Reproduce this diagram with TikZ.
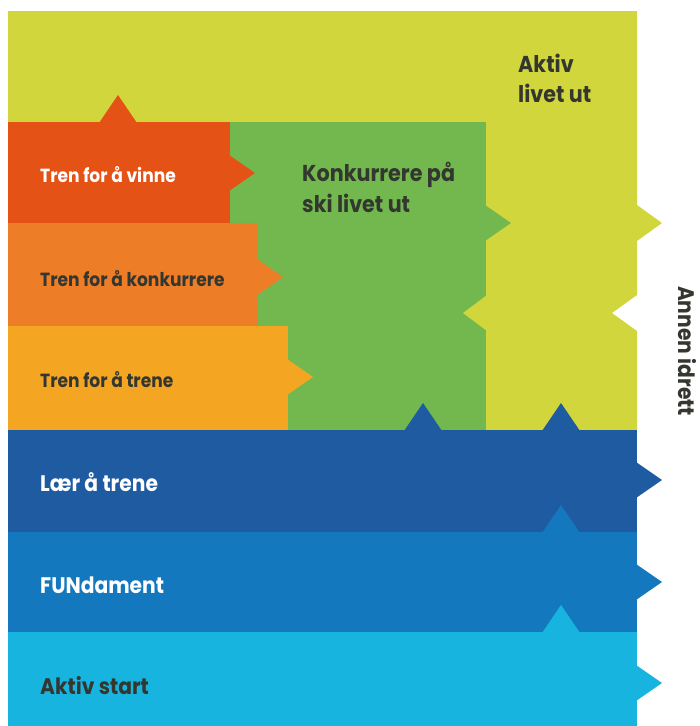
\documentclass[tikz,border=0pt]{standalone}
\usepackage{fontspec}
\setmainfont{Poppins}[FakeStretch=0.9]

\definecolor{limeband}{HTML}{D2D63D}
\definecolor{redband}{HTML}{E55215}
\definecolor{orangeband}{HTML}{EE7D28}
\definecolor{yellowband}{HTML}{F4A623}
\definecolor{greenband}{HTML}{72B84E}
\definecolor{darkblue}{HTML}{1F5BA0}
\definecolor{midblue}{HTML}{1478BE}
\definecolor{cyanband}{HTML}{17B4E0}
\definecolor{ink}{HTML}{33372F}

\begin{document}
\begin{tikzpicture}[x=1pt, y=-1pt,
    lbl/.style={anchor=base west, inner sep=0pt, font=\bfseries\fontsize{19}{19}\selectfont},
    biglbl/.style={anchor=base west, inner sep=0pt, font=\bfseries\fontsize{22.5}{22.5}\selectfont},
    toplbl/.style={anchor=base west, inner sep=0pt, text=ink, font=\bfseries\fontsize{23}{23}\selectfont}
]
\useasboundingbox (0,0) rectangle (700,726);

% Lime block with its outer arrow and notch
\fill[limeband] (8,11) -- (637,11) -- (637,205) -- (662,223) -- (637,241)
    -- (637,295) -- (612,313) -- (637,331) -- (637,430) -- (8,430) -- cycle;

% Bands
\fill[greenband]  (230,122) rectangle (486,430);
\fill[redband]    (8,122)   rectangle (230,223);
\fill[orangeband] (8,223)   rectangle (258,326);
\fill[yellowband] (8,326)   rectangle (288,430);
\fill[darkblue]   (8,430)   rectangle (637,532);
\fill[midblue]    (8,532)   rectangle (637,632);
\fill[cyanband]   (8,632)   rectangle (637,726);

% Arrows to the right
\foreach \xx/\yy/\cc in {486/223/greenband, 230/173/redband, 258/277/orangeband,
    288/377/yellowband, 637/480/darkblue, 637/582/midblue, 637/683/cyanband}
    \fill[\cc] (\xx-1,\yy-18) -- (\xx+25,\yy) -- (\xx-1,\yy+18) -- cycle;

% Arrows upwards
\foreach \xx/\yy/\cc in {118/122/redband, 423/430/darkblue, 561/430/darkblue,
    561/532/midblue, 561/632/cyanband}
    \fill[\cc] (\xx-19,\yy+1) -- (\xx,\yy-27) -- (\xx+19,\yy+1) -- cycle;

% Arrow back into the green block
\fill[limeband] (487,295) -- (463,313) -- (487,331) -- cycle;

% Labels
\node[lbl, text=white] (vinne) at (40,182) {Tren for å vinne};
\node[lbl, text=ink]   (konk)  at (40,286) {Tren for å konkurrere};
\node[lbl, text=ink]   (trene) at (40,387) {Tren for å trene};

\node[biglbl, text=white] (laer)  at (40,491) {Lær å trene};
\node[biglbl, text=white] (fund)  at (40,593) {FUNdament};
\node[biglbl, text=ink]   (start) at (40,694) {Aktiv start};

\node[toplbl] (ski1) at (302,181) {Konkurrere på};
\node[toplbl] (ski2) at (302,212) {ski livet ut};
\node[toplbl] (aktiv1) at (518,72)  {Aktiv};
\node[toplbl] (aktiv2) at (518,102) {livet ut};

\node[rotate=-90, text=ink, font=\bfseries\fontsize{22.5}{22.5}\selectfont] (annen) at (687,351) {Annen idrett};

\end{tikzpicture}
\end{document}
